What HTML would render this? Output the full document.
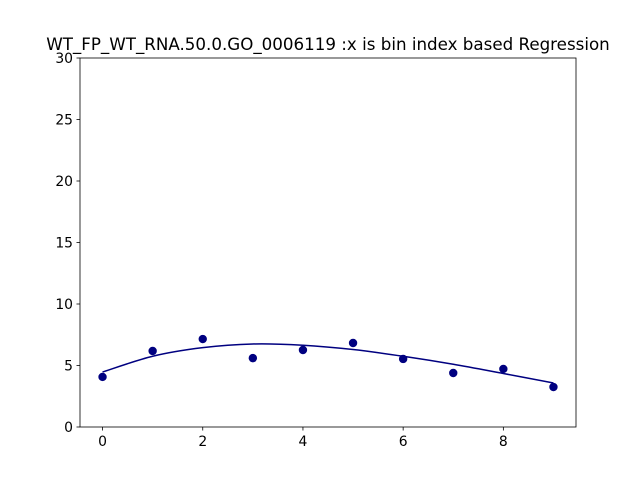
<!DOCTYPE html>
<html><head><meta charset="utf-8"><style>
body{margin:0;background:#fff;font-family:"Liberation Sans","DejaVu Sans",sans-serif}
svg text{font-family:"DejaVu Sans","Liberation Sans",sans-serif}
</style></head><body>
<svg id="c" width="640" height="480"></svg>
<script>
const xs=[0,1,2,3,4,5,6,7,8,9];
const pointValues=[4.07,6.18,7.15,5.6,6.26,6.83,5.53,4.39,4.72,3.25];
const curveValues=[4.47,5.75,6.45,6.75,6.65,6.3,5.75,5.1,4.35,3.58];
const xTicks=[0,2,4,6,8];
const yTicks=[0,5,10,15,20,25,30];
const L=80,R=576,T=58,B=427;
const X=v=>L+(v+0.45)/9.9*(R-L);
const Y=v=>B-v/30*(B-T);
const s=document.getElementById('c');const NS='http://www.w3.org/2000/svg';
function mk(t,a,p){const e=document.createElementNS(NS,t);for(const k in a)e.setAttribute(k,a[k]);(p||s).appendChild(e);return e;}
const t=mk('text',{x:328,y:50,'font-size':16.7,'text-anchor':'middle'});t.textContent='WT_FP_WT_RNA.50.0.GO_0006119 :x is bin index based Regression';


let d='';const P=xs.map((x,i)=>[X(x),Y(curveValues[i])]);
d='M'+P[0][0]+','+P[0][1];
for(let i=0;i<P.length-1;i++){const p0=P[Math.max(0,i-1)],p1=P[i],p2=P[i+1],p3=P[Math.min(P.length-1,i+2)];
d+=` C${p1[0]+(p2[0]-p0[0])/6},${p1[1]+(p2[1]-p0[1])/6} ${p2[0]-(p3[0]-p1[0])/6},${p2[1]-(p3[1]-p1[1])/6} ${p2[0]},${p2[1]}`;}
const c=mk('path',{d:d,fill:'none',stroke:'#000080','stroke-width':1.5});


xs.forEach((x,i)=>{const p=mk('circle',{cx:X(x),cy:Y(pointValues[i]),r:4.2,fill:'#000080'});

});
const fr=mk('rect',{x:L,y:T,width:R-L,height:B-T,fill:'none',stroke:'#000','stroke-width':0.8});


xTicks.forEach(v=>{mk('line',{x1:X(v),x2:X(v),y1:B,y2:B+3.5,stroke:'#000','stroke-width':0.8});
const e=mk('text',{x:X(v),y:B+19,'font-size':13.9,'text-anchor':'middle'});e.textContent=v;

});
yTicks.forEach(v=>{mk('line',{x1:L-3.5,x2:L,y1:Y(v),y2:Y(v),stroke:'#000','stroke-width':0.8});
const e=mk('text',{x:L-7,y:Y(v)+5,'font-size':13.9,'text-anchor':'end'});e.textContent=v;

});
</script></body></html>
